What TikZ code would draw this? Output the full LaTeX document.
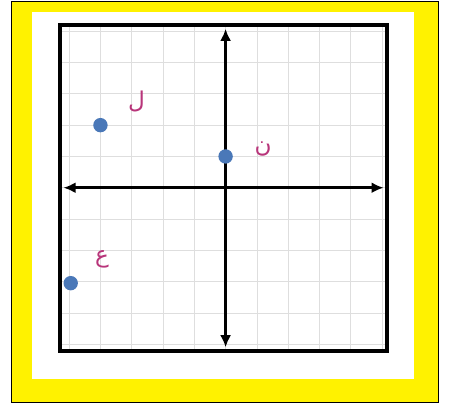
\documentclass[tikz,border=0pt]{standalone}
\usepackage{fontspec}
\newfontfamily\arabicfont[Script=Arabic]{DejaVu Sans}
\TeXXeTstate=1
\usetikzlibrary{arrows.meta, positioning}
\definecolor{dotblue}{HTML}{4A78B8}
\definecolor{letterpink}{HTML}{B8357A}

\begin{document}
\begin{tikzpicture}[
  frame/.style={draw=black, line width=0.9pt, fill=yellow},
  gridline/.style={draw=black!13, line width=0.7pt},
  box/.style={draw=black, line width=3.4pt},
  axis/.style={{Latex[length=11pt,width=10pt]}-{Latex[length=11pt,width=10pt]}, line width=2.9pt},
  pt/.style={circle, fill=dotblue, inner sep=0pt, minimum size=0.46cm},
  letter/.style={text=letterpink, font=\arabicfont\fontsize{21}{23}\selectfont, inner sep=1pt},
]
  % page and yellow frame
  \useasboundingbox (-7.21,-6.91) rectangle (7.14,6.0);
  \fill[white] (-7.21,-6.91) rectangle (7.14,6.0);
  \path[frame] (-6.83,-6.85) rectangle (6.81,5.96);
  \fill[white] (-6.19,-6.11) rectangle (6.02,5.61);

  % grid
  \foreach \k in {-5,...,5} {
    \draw[gridline] (\k,-5.22) -- (\k,5.2);
    \draw[gridline] (-5.29,\k) -- (5.15,\k);
  }
  \draw[box] (-5.29,-5.22) rectangle (5.15,5.2);

  % axes
  \coordinate (xl) at (-5.18,0);
  \coordinate (xr) at (5.05,0);
  \coordinate (yb) at (0,-5.1);
  \coordinate (yt) at (0,5.08);
  \draw[axis] (xl) -- (xr);
  \draw[axis] (yb) -- (yt);

  % points
  \node[pt] (L) at (-4,2) {};
  \node[pt] (N) at (0,1) {};
  \node[pt] (A) at (-4.95,-3.05) {};

  % labels
  \node[letter] (labL) at (-2.85,2.75) {\beginR ل\endR};
  \node[letter] (labN) at (1.2,1.25) {\beginR ن\endR};
  \node[letter] (labA) at (-3.95,-2.3) {\beginR ع\endR};
\end{tikzpicture}
\end{document}
